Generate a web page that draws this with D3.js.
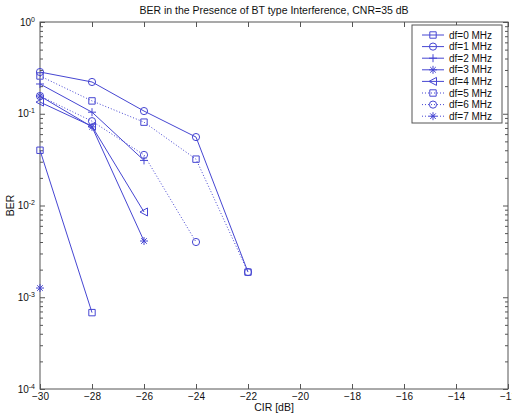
<!DOCTYPE html>
<html>
<head>
<meta charset="utf-8">
<script src="https://cdn.jsdelivr.net/npm/d3@7"></script>
<style>
  body { margin: 0; background: #fff; }
  svg { display: block; font-family: "Liberation Sans", Arial, sans-serif; }
</style>
</head>
<body>
<div id="chart"></div>
<script>
// x positions (CIR in dB)
const cir = [-30, -28, -26, -24, -22];
// BER per frequency offset (zero BER points are not drawn)
const df0 = [0.040, 0.00068];
const df1 = [0.285, 0.222, 0.107, 0.0557, 0.00188];
const df2 = [0.211, 0.104, 0.031];
const df3 = [0.156, 0.072, 0.0041];
const df4 = [0.134, 0.073, 0.0085];
const df5 = [0.258, 0.138, 0.081, 0.032, 0.00188];
const df6 = [0.156, 0.083, 0.0356, 0.0040];
const df7 = [0.00126];
const seriesNames = ["df=0 MHz", "df=1 MHz", "df=2 MHz", "df=3 MHz", "df=4 MHz", "df=5 MHz", "df=6 MHz", "df=7 MHz"];
const seriesVals = [df0, df1, df2, df3, df4, df5, df6, df7];
const markers = ["square", "circle", "plus", "star", "triangle", "square", "circle", "star"];
const dotted = [false, false, false, false, false, true, true, true];
const xTicks = [-30, -28, -26, -24, -22, -20, -18, -16, -14, -12];
const yTicks = [1e-4, 1e-3, 1e-2, 1e-1, 1];

const W = 512, H = 416;
const mLeft = 40, mRight = 508, mTop = 22, mBottom = 389;
const blue = "#4646d2";
const axisCol = "#555";

const svg = d3.select("#chart").append("svg").attr("width", W).attr("height", H);

const x = d3.scaleLinear().domain([-30, -12]).range([mLeft, mRight]);
const y = d3.scaleLog().domain([1e-4, 1]).range([mBottom, mTop]);

// minor log ticks
const minor = [];
for (let e = -4; e < 0; e++) for (let m = 2; m <= 9; m++) minor.push(m * Math.pow(10, e));

// box
svg.append("rect").attr("x", mLeft).attr("y", mTop).attr("width", mRight - mLeft).attr("height", mBottom - mTop)
  .attr("fill", "none").attr("stroke", axisCol).attr("stroke-width", 1);

function styleAxis(g) {
  g.select(".domain").remove();
  g.selectAll("line").attr("stroke", axisCol);
  g.selectAll("text").attr("fill", "#111").attr("font-size", 10);
}

svg.append("g").attr("transform", `translate(0,${mBottom})`)
  .call(d3.axisBottom(x).tickValues(xTicks).tickSize(-5).tickPadding(4).tickFormat(d => String(d).replace("-", "\u2212")))
  .call(styleAxis);
svg.append("g").attr("transform", `translate(0,${mTop})`)
  .call(d3.axisTop(x).tickValues(xTicks).tickSize(-5).tickFormat(""))
  .call(styleAxis);

const yl = svg.append("g").attr("transform", `translate(${mLeft},0)`)
  .call(d3.axisLeft(y).tickValues(yTicks).tickSize(-5).tickPadding(6).tickFormat(""))
  .call(styleAxis);
yl.selectAll(".tick").append("text")
  .attr("x", -5).attr("dy", "0.32em").attr("text-anchor", "end").attr("font-size", 10).attr("fill", "#111")
  .each(function(d) {
    const t = d3.select(this);
    t.append("tspan").text("10");
    t.append("tspan").attr("dy", "-0.6em").attr("font-size", 7).text(String(Math.round(Math.log10(d))));
  });
svg.append("g").attr("transform", `translate(${mLeft},0)`)
  .call(d3.axisLeft(y).tickValues(minor).tickSize(-3).tickFormat(""))
  .call(styleAxis);
svg.append("g").attr("transform", `translate(${mRight},0)`)
  .call(d3.axisRight(y).tickValues(yTicks).tickSize(-5).tickFormat(""))
  .call(styleAxis);
svg.append("g").attr("transform", `translate(${mRight},0)`)
  .call(d3.axisRight(y).tickValues(minor).tickSize(-3).tickFormat(""))
  .call(styleAxis);

// titles
svg.append("text").attr("x", (mLeft + mRight) / 2).attr("y", 14).attr("text-anchor", "middle")
  .attr("font-size", 10.5).attr("fill", "#111").text("BER in the Presence of BT type Interference, CNR=35 dB");
svg.append("text").attr("x", (mLeft + mRight) / 2).attr("y", 411).attr("text-anchor", "middle")
  .attr("font-size", 10.5).attr("fill", "#111").text("CIR [dB]");
svg.append("text").attr("transform", `translate(14,${(mTop + mBottom) / 2}) rotate(-90)`).attr("text-anchor", "middle")
  .attr("font-size", 10.5).attr("fill", "#111").text("BER");

function markerPath(type, cx, cy) {
  const s = 3.2;
  const p = d3.path();
  if (type === "square") {
    p.rect(cx - s, cy - s, 2 * s, 2 * s);
  } else if (type === "circle") {
    p.moveTo(cx + 3.6, cy); p.arc(cx, cy, 3.6, 0, 2 * Math.PI);
  } else if (type === "plus") {
    p.moveTo(cx - 4, cy); p.lineTo(cx + 4, cy); p.moveTo(cx, cy - 4); p.lineTo(cx, cy + 4);
  } else if (type === "star") {
    p.moveTo(cx - 4, cy); p.lineTo(cx + 4, cy); p.moveTo(cx, cy - 4); p.lineTo(cx, cy + 4);
    p.moveTo(cx - 2.8, cy - 2.8); p.lineTo(cx + 2.8, cy + 2.8); p.moveTo(cx - 2.8, cy + 2.8); p.lineTo(cx + 2.8, cy - 2.8);
  } else if (type === "triangle") {
    p.moveTo(cx - 4, cy); p.lineTo(cx + 3.5, cy - 4); p.lineTo(cx + 3.5, cy + 4); p.closePath();
  }
  return p.toString();
}

const line = d3.line().x(d => x(d[0])).y(d => y(d[1]));
const plot = svg.append("g");

seriesVals.forEach((vals, i) => {
  const pts = vals.map((v, j) => [cir[j], v]);
  plot.append("path").attr("d", line(pts)).attr("fill", "none").attr("stroke", blue)
    .attr("stroke-width", 1).attr("stroke-dasharray", dotted[i] ? "1,2" : null);
  plot.selectAll(null).data(pts).enter().append("path")
    .attr("d", d => markerPath(markers[i], x(d[0]), y(d[1])))
    .attr("fill", "none").attr("stroke", blue).attr("stroke-width", 1);
});

// legend
const lg = svg.append("g");
lg.append("rect").attr("x", 412).attr("y", 25).attr("width", 90).attr("height", 98)
  .attr("fill", "#fff").attr("stroke", axisCol);
seriesNames.forEach((name, i) => {
  const ry = 35 + i * 11.6;
  lg.append("line").attr("x1", 422).attr("x2", 444).attr("y1", ry).attr("y2", ry)
    .attr("stroke", blue).attr("stroke-dasharray", dotted[i] ? "1,2" : null);
  lg.append("path").attr("d", markerPath(markers[i], 433, ry)).attr("fill", "none").attr("stroke", blue);
  lg.append("text").attr("x", 449).attr("y", ry).attr("dy", "0.35em").attr("font-size", 10)
    .attr("fill", "#111").text(name);
});
</script>
</body>
</html>
